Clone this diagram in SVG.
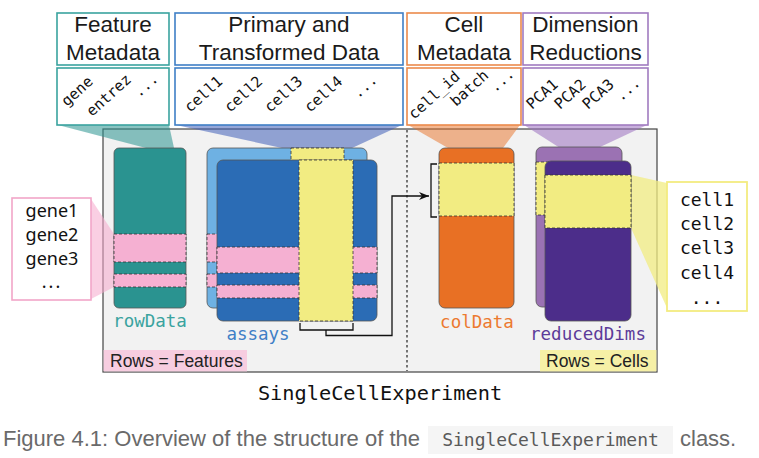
<svg xmlns="http://www.w3.org/2000/svg" width="759" height="458" viewBox="0 0 759 458">
<defs>
<marker id="arr" viewBox="0 0 10 10" refX="10" refY="5" markerWidth="10" markerHeight="10" markerUnits="userSpaceOnUse" orient="auto"><path d="M0,1 L10,5 L0,9 L3,5 Z" fill="#111"/></marker>
</defs>
<style>
.hd{font-family:"Liberation Sans",Arial,sans-serif;font-size:22.5px;fill:#1a1a1a;text-anchor:middle}
.rot{font-family:"DejaVu Sans Mono","Liberation Mono",monospace;font-size:15px;fill:#111}
.lbl{font-family:"DejaVu Sans Mono","Liberation Mono",monospace;font-size:17.5px;text-anchor:middle}
.mat{stroke:#555;stroke-width:0.8}
.band{stroke:#333;stroke-width:0.8;stroke-dasharray:3,2}
.pink{fill:#f5b0d2}
.yel{fill:#f2ec82}
.list{font-family:"DejaVu Sans Mono","Liberation Mono",monospace;font-size:18px;fill:#111;text-anchor:middle}
.glist{font-family:"Noto Sans","DejaVu Sans",sans-serif;font-size:18px;fill:#111;text-anchor:middle}
.tag{font-family:"Liberation Sans",Arial,sans-serif;font-size:17.5px;fill:#222}
.cap{font-family:"Liberation Sans",Arial,sans-serif;font-size:22px;fill:#6a6a6a}
</style>
<rect width="759" height="458" fill="#ffffff"/>
<g id="sce">
<rect x="103" y="129" width="554" height="243" fill="#f2f2f2" stroke="#444" stroke-width="1.2"/>
<line x1="407" y1="130" x2="407" y2="371" stroke="#222" stroke-width="1.2" stroke-dasharray="2.5,2.5"/>
<rect x="103.6" y="350" width="143.4" height="21.4" fill="#f7cde0"/>
<text class="tag" x="110" y="367">Rows = Features</text>
<rect x="540" y="350" width="116.4" height="21.4" fill="#f6f0a6"/>
<text class="tag" x="546" y="367">Rows = Cells</text>
<text x="380" y="400" font-family="DejaVu Sans Mono,Liberation Mono,monospace" font-size="20.3px" fill="#111" text-anchor="middle">SingleCellExperiment</text>
</g>
<g id="callouts">
<polygon points="58,125 169,125 174,148 146,148" fill="#2a9390" fill-opacity="0.55"/>
<polygon points="176,125 402,125 352,148 282,148" fill="#3f5fb8" fill-opacity="0.55"/>
<polygon points="408,125 520,125 503,148 448,148" fill="#e87024" fill-opacity="0.5"/>
<polygon points="524,125 647,125 598,148 560,148" fill="#9a6fc0" fill-opacity="0.55"/>
<polygon points="91,199 114,234 114,287 91,299" fill="#f5a8cc" fill-opacity="0.55"/>
<polygon points="631,175 667,183 667,308 631,228" fill="#f2ec82" fill-opacity="0.75"/>
</g>
<g id="featureMetadata">
<rect x="57" y="13" width="112" height="52" fill="#fff" stroke="#3aa39f" stroke-width="1.6"/>
<text class="hd" x="113" y="32">Feature</text>
<text class="hd" x="113" y="60">Metadata</text>
<rect x="57" y="68" width="112" height="57" fill="#fff" stroke="#3aa39f" stroke-width="1.6"/>
<text class="rot" transform="translate(67,107) rotate(-42)">gene</text>
<text class="rot" transform="translate(92,117) rotate(-42)">entrez</text>
<text class="rot" transform="translate(139,98) rotate(-42)">...</text>
</g>
<g id="primaryData">
<rect x="175" y="13" width="228" height="52" fill="#fff" stroke="#3f7fc6" stroke-width="1.6"/>
<text class="hd" x="289" y="32">Primary and</text>
<text class="hd" x="289" y="60">Transformed Data</text>
<rect x="175" y="68" width="228" height="57" fill="#fff" stroke="#3f7fc6" stroke-width="1.6"/>
<text class="rot" transform="translate(190,113) rotate(-42)">cell1</text>
<text class="rot" transform="translate(230,113) rotate(-42)">cell2</text>
<text class="rot" transform="translate(270,113) rotate(-42)">cell3</text>
<text class="rot" transform="translate(310,113) rotate(-42)">cell4</text>
<text class="rot" transform="translate(358,99) rotate(-42)">...</text>
</g>
<g id="cellMetadata">
<rect x="407" y="13" width="114" height="52" fill="#fff" stroke="#ec8a4b" stroke-width="1.6"/>
<text class="hd" x="464" y="32">Cell</text>
<text class="hd" x="464" y="60">Metadata</text>
<rect x="407" y="68" width="114" height="57" fill="#fff" stroke="#ec8a4b" stroke-width="1.6"/>
<text class="rot" transform="translate(414,120) rotate(-42)">cell_id</text>
<text class="rot" transform="translate(456,107) rotate(-42)">batch</text>
<text class="rot" transform="translate(495,93) rotate(-42)">...</text>
</g>
<g id="dimReductions">
<rect x="523" y="13" width="125" height="52" fill="#fff" stroke="#a07bc0" stroke-width="1.6"/>
<text class="hd" x="585.5" y="32">Dimension</text>
<text class="hd" x="585.5" y="60">Reductions</text>
<rect x="523" y="68" width="125" height="57" fill="#fff" stroke="#a07bc0" stroke-width="1.6"/>
<text class="rot" transform="translate(532,110) rotate(-42)">PCA1</text>
<text class="rot" transform="translate(560,110) rotate(-42)">PCA2</text>
<text class="rot" transform="translate(588,110) rotate(-42)">PCA3</text>
<text class="rot" transform="translate(621,102) rotate(-42)">...</text>
</g>
<g id="geneList">
<rect x="12" y="198" width="79" height="102" fill="#fff" stroke="#f2a6c8" stroke-width="1.6"/>
<text class="glist" x="52" y="217">gene1</text>
<text class="glist" x="52" y="241">gene2</text>
<text class="glist" x="52" y="265">gene3</text>
<text class="glist" x="52" y="288" letter-spacing="2">...</text>
</g>
<g id="rowData">
<rect class="mat" x="114" y="148" width="72" height="160" rx="5" fill="#2a9390"/>
<rect class="band pink" x="114" y="234" width="72" height="28"/>
<rect class="band pink" x="114" y="274" width="72" height="13"/>
<text class="lbl" x="150" y="327" fill="#3aa39f">rowData</text>
</g>
<g id="assays">
<rect class="mat" x="207" y="148" width="160" height="160" rx="6" fill="#6eb1e3"/>
<rect class="band pink" x="207" y="234" width="160" height="28"/>
<rect class="band pink" x="207" y="274" width="160" height="13"/>
<rect class="band yel" x="291" y="148" width="53" height="160"/>
<rect class="mat" x="217" y="160" width="160" height="161" rx="6" fill="#2b6cb5"/>
<rect class="band pink" x="217" y="247" width="160" height="26"/>
<rect class="band pink" x="217" y="285" width="160" height="13"/>
<rect class="band yel" x="299" y="160" width="54" height="161"/>
<text class="lbl" x="258" y="340" fill="#3f7fc6">assays</text>
</g>
<g id="colData">
<rect class="mat" x="439" y="148" width="75" height="160" rx="6" fill="#e87024"/>
<rect class="band yel" x="439" y="163" width="75" height="53"/>
<text class="lbl" x="477" y="328" fill="#ec7a30">colData</text>
</g>
<g id="reducedDims">
<rect class="mat" x="536" y="147" width="86" height="160" rx="6" fill="#9b72b3"/>
<rect class="band yel" x="536" y="162" width="86" height="53"/>
<rect class="mat" x="545" y="161" width="86" height="160" rx="6" fill="#4c2d8a"/>
<rect class="band yel" x="545" y="175" width="86" height="53"/>
<text class="lbl" x="588" y="340" fill="#5c3b99">reducedDims</text>
</g>
<g id="cellList">
<rect x="667" y="182" width="80" height="129" fill="#fff" stroke="#f3ec80" stroke-width="1.8"/>
<text class="list" x="707" y="206">cell1</text>
<text class="list" x="707" y="230">cell2</text>
<text class="list" x="707" y="254">cell3</text>
<text class="list" x="707" y="279">cell4</text>
<text class="list" x="707" y="304">...</text>
</g>
<g id="connectors" fill="none" stroke="#111" stroke-width="1.3">
<path d="M300,323 V330 H353 V323"/>
<path d="M326,330 V335.5 H392 V196 H429" marker-end="url(#arr)"/>
<path d="M437,164 H431 V217 H437"/>
</g>
<g id="caption">
<text class="cap" x="3" y="446">Figure 4.1: Overview of the structure of the</text>
<rect x="428" y="426" width="245" height="28" fill="#f5f5f5"/>
<text x="550.5" y="446" font-family="DejaVu Sans Mono,Liberation Mono,monospace" font-size="18px" fill="#5a5a5a" text-anchor="middle">SingleCellExperiment</text>
<text class="cap" x="680" y="446">class.</text>
</g>
</svg>
